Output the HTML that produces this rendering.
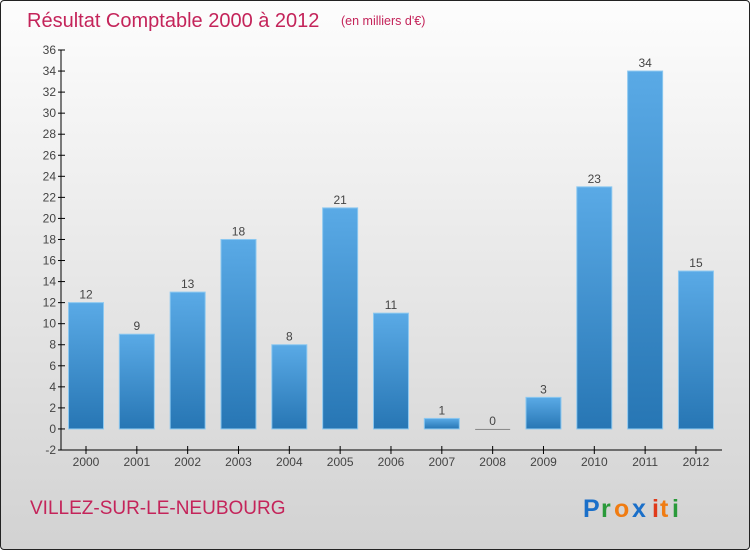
<!DOCTYPE html>
<html><head><meta charset="utf-8"><style>
body{margin:0;width:750px;height:550px;overflow:hidden}
#wrap{position:absolute;left:0;top:0;width:748px;height:548px;border:1px solid #222;border-radius:4px;background:linear-gradient(#fdfdfd,#d2d2d2);font-family:"Liberation Sans",sans-serif}
</style></head><body>
<div id="wrap">
<svg id="c" width="750" height="550" style="position:absolute;left:-1px;top:-1px">
<defs><linearGradient id="g" x1="0" y1="0" x2="0" y2="1"><stop offset="0" stop-color="#5aaae6"/><stop offset="1" stop-color="#2776b4"/></linearGradient></defs>
<text x="27" y="27" font-size="20" fill="#c4245a">Résultat Comptable 2000 à 2012</text>
<text x="341" y="25" font-size="12.5" fill="#c4245a">(en milliers d'€)</text>
<text x="30" y="514" font-size="19" fill="#c4245a">VILLEZ-SUR-LE-NEUBOURG</text>
<g font-size="25" font-weight="bold"><text x="583" y="517" fill="#1a6fc9">P</text><text x="601" y="517" fill="#2a9a3a">r</text><text x="614" y="517" fill="#f07c12">o</text><text x="632" y="517" fill="#1a6fc9">x</text><text x="652" y="517" fill="#e03a1a">i</text><text x="660" y="517" fill="#f07c12">t</text><text x="672" y="517" fill="#2a9a3a">i</text></g>
<g id="plot"></g>
</svg></div>
<script>
const categories=["2000","2001","2002","2003","2004","2005","2006","2007","2008","2009","2010","2011","2012"];
const values=[12,9,13,18,8,21,11,1,0,3,23,34,15];
const yTicks=[-2,0,2,4,6,8,10,12,14,16,18,20,22,24,26,28,30,32,34,36];
const ns="http://www.w3.org/2000/svg",p=document.getElementById("plot");
const y=v=>50+(36-v)*400/38, x=i=>86+i*50.83;
function mk(t,a,txt){const e=document.createElementNS(ns,t);for(const k in a)e.setAttribute(k,a[k]);if(txt!=null)e.textContent=txt;p.appendChild(e);return e;}
let e=mk("line",{x1:61,y1:50,x2:61,y2:450,stroke:"#000"});


e=mk("line",{x1:61,y1:450,x2:722,y2:450,stroke:"#000"});


yTicks.forEach(v=>{
 e=mk("line",{x1:58,y1:y(v),x2:65,y2:y(v),stroke:"#000"});
 
 
 e=mk("text",{x:56,y:y(v)+4,"font-size":12,fill:"#444","text-anchor":"end"},v);
 
 
});
categories.forEach((c,i)=>{
 const v=values[i];
 e=mk("line",{x1:x(i),y1:446,x2:x(i),y2:454,stroke:"#000"});
 
 
 e=mk("text",{x:x(i),y:466,"font-size":12,fill:"#444","text-anchor":"middle"},c);
 
 
 const top=y(Math.max(v,0)),h=Math.max(Math.abs(y(v)-y(0)),1);
 e=mk("rect",{x:x(i)-17.5,y:top,width:35,height:h,fill:v===0?"#888":"url(#g)",stroke:v===0?"none":"#8cc8f0","stroke-width":1});
 
 
 e=mk("text",{x:x(i),y:top-4,"font-size":12,fill:"#444","text-anchor":"middle"},v);
 
 
});
</script>
</body></html>
